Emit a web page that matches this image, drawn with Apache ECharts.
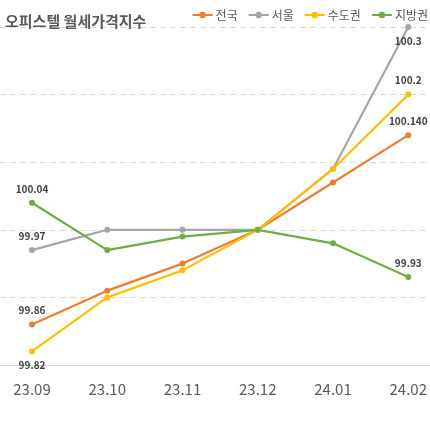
<!DOCTYPE html>
<html><head><meta charset="utf-8">
<script src="https://cdn.jsdelivr.net/npm/echarts@6/dist/echarts.min.js"></script>
<style>html,body{margin:0;padding:0;background:#fff}#c{width:430px;height:430px}</style>
</head><body><div id="c"></div>
<script>
const categories = ['23.09','23.10','23.11','23.12','24.01','24.02'];
const seriesNames = ['전국','서울','수도권','지방권'];
const nationwide = [99.86, 99.91, 99.95, 100.00, 100.07, 100.14];
const seoul = [99.97, 100.00, 100.00, 100.00, 100.09, 100.30];
const capital = [99.82, 99.90, 99.94, 100.00, 100.09, 100.20];
const provinces = [100.04, 99.97, 99.99, 100.00, 99.98, 99.93];
const firstLabels = ['99.86','99.97','99.82','100.04'];
const lastLabels = ['100.140','100.3','100.2','99.93'];
const firstPos = ['top','top','bottom','top'];
const lastPos = ['top','bottom','top','top'];
const colors = ['#ED7D31','#A5A5A5','#FFC000','#70AD47'];
const allValues = [nationwide, seoul, capital, provinces];

const FONT = '"Noto Sans CJK KR", "Noto Sans", sans-serif';
function buildData(vals, i) {
  return vals.map((v, k) => {
    const d = { value: v };
    if (k === 0 || k === vals.length - 1) {
      const txt = k === 0 ? firstLabels[i] : lastLabels[i];
      d.label = { show: true, position: k === 0 ? firstPos[i] : lastPos[i], formatter: txt,
        color: '#404040', fontSize: 10, fontWeight: 'bold', fontFamily: FONT, distance: 6 };
    }
    return d;
  });
}
const chart = echarts.init(document.getElementById('c'), null, { renderer: 'canvas' });
chart.setOption({
  animation: false,
  color: colors,
  title: { text: '오피스텔 월세가격지수', left: 0, top: 9,
    textStyle: { fontSize: 15, fontWeight: 'bold', color: '#595959', fontFamily: FONT } },
  legend: { right: 2, top: 9, padding: 0, itemWidth: 20, itemHeight: 8, itemGap: 10,
    textStyle: { fontSize: 12, color: '#595959', fontFamily: FONT, padding: [0,0,0,-2] },
    data: seriesNames },
  grid: [
    { left: 32, right: 17, top: 27, bottom: 65 },
    { left: 0, right: 0, top: 27, bottom: 65 }
  ],
  xAxis: [
    { type: 'category', gridIndex: 0, data: categories, boundaryGap: false,
      axisLine: { show: false }, axisTick: { show: false },
      axisLabel: { color: '#595959', fontSize: 15, fontFamily: FONT, margin: 17 } },
    { type: 'category', gridIndex: 1, data: categories, boundaryGap: false,
      axisLine: { lineStyle: { color: '#d9d9d9' } }, axisTick: { show: false },
      axisLabel: { show: false } }
  ],
  yAxis: [
    { type: 'value', gridIndex: 0, min: 99.8, max: 100.3, interval: 0.1,
      axisLabel: { show: false }, axisLine: { show: false }, axisTick: { show: false },
      splitLine: { show: false } },
    { type: 'value', gridIndex: 1, min: 99.8, max: 100.3, interval: 0.1,
      axisLabel: { show: false }, axisLine: { show: false }, axisTick: { show: false },
      splitLine: { lineStyle: { color: '#d9d9d9', type: [6, 4] } } }
  ],
  series: allValues.map((vals, i) => ({
    name: seriesNames[i], type: 'line', xAxisIndex: 0, yAxisIndex: 0, z: 3,
    data: buildData(vals, i),
    symbol: 'circle', symbolSize: 6, showAllSymbol: true,
    lineStyle: { width: 2.2, color: colors[i] }, itemStyle: { color: colors[i] }
  }))
});
</script></body></html>
